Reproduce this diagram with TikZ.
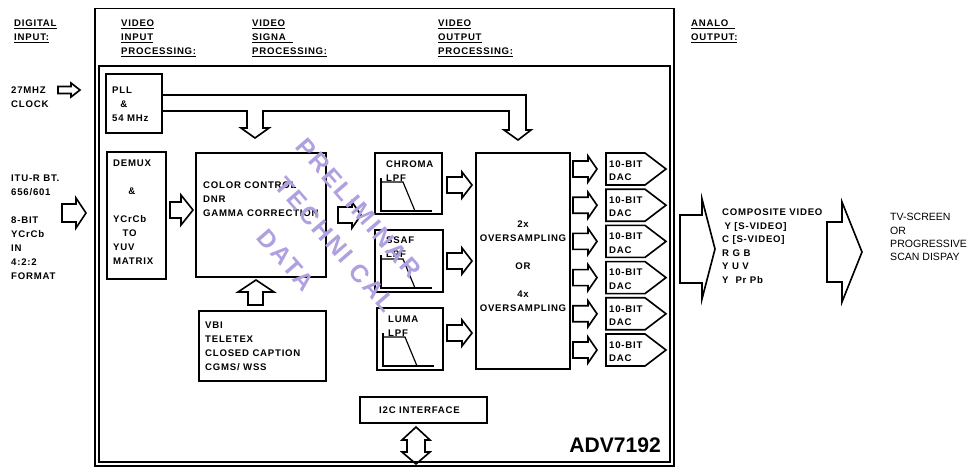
\documentclass[tikz,border=0pt]{standalone}
\usepackage{fontspec}
\setmainfont{Liberation Sans}
\newfontfamily\chugian[LetterSpace=8]{Liberation Sans}
\newfontfamily\chumo[LetterSpace=10]{Liberation Sans}
\definecolor{tim}{RGB}{176,160,224}
\tikzset{
  chu/.style={font=\chugian\fontsize{8.2}{12}\selectfont\bfseries, inner sep=0pt, align=left, anchor=north west},
  hop/.style={line width=1.4pt},
  vien/.style={line width=1.7pt},
  loc/.style={line width=2.2pt},
  mo/.style={text=tim, font=\chumo\fontsize{21}{24}\selectfont\bfseries, inner sep=0pt, anchor=west, rotate=-49}
}
% mui ten rong: x dau, x bat dau mui, x dinh, y giua, nua than, nua mui
\newcommand{\muiten}[6]{%
  \draw[hop] (#1,#4-#5) -- (#2,#4-#5) -- (#2,#4-#6) -- (#3,#4) -- (#2,#4+#6) -- (#2,#4+#5) -- (#1,#4+#5) -- cycle;}
\begin{document}
\begin{tikzpicture}[x=0.03cm, y=-0.03cm]
	\useasboundingbox (0,0) rectangle (967,467);
	% Khung ngoài và khung trong
	\draw[vien] (95,8.5) rectangle (674,465.6);
	\draw[vien] (99,66) rectangle (669.5,462);
	% Tiêu đề các cột
	\node[chu] (dig) at (14,19.6) {\underline{DIGITAL}\\\underline{INPUT:}};
	\node[chu] (vin) at (121,19.6) {\underline{VIDEO}\\\underline{INPUT}\\\underline{PROCESSING:}};
	\node[chu] (vsig) at (252,19.6) {\underline{VIDEO}\\\underline{SIGNA~~}\\\underline{PROCESSING:}};
	\node[chu] (vout) at (438,19.6) {\underline{VIDEO}\\\underline{OUTPUT}\\\underline{PROCESSING:}};
	\node[chu] (aout) at (691,19.6) {\underline{ANALO~~}\\\underline{OUTPUT:}};
	% Đầu vào
	\node[chu] (clk) at (11,86.6) {27MHZ\\CLOCK};
	\muiten{58}{71}{80}{90}{3.5}{7}
	\node[chu] (itu) at (11,174.6) {ITU-R BT.\\656/601\\[12pt]8-BIT\\YCrCb\\IN\\4:2:2\\FORMAT};
	\muiten{62}{76}{86}{213}{9}{15}
	% PLL
	\draw[hop] (106,74) rectangle (162,133);
	\node[chu] (pll) at (112,86.6) {PLL\\\hspace*{7pt}\&\\54 MHz};
	\draw[hop] (162,95) -- (526,95) -- (526,130) -- (531,130) -- (518,140) -- (504,130) -- (509,130)
		-- (509,111) -- (263,111) -- (263,128) -- (269,128) -- (255,138) -- (241,128) -- (247,128)
		-- (247,111) -- (162,111);
	% DEMUX
	\draw[hop] (107,152) rectangle (166,279);
	\node[chu] (demux) at (113,159.6) {DEMUX\\[12pt]\hspace*{13pt}\&\\[12pt]YCrCb\\\hspace*{8pt}TO\\YUV\\MATRIX};
	\muiten{170}{181}{193}{210}{8}{15}
	% Điều chỉnh màu
	\draw[hop] (196,153) rectangle (326,277);
	\node[chu] (mau) at (203,181.6) {COLOR CONTROL\\DNR\\GAMMA CORRECTION};
	\draw[hop] (248,305) -- (248,292) -- (238,292) -- (256,280) -- (274,292) -- (263,292) -- (263,305) -- cycle;
	\draw[hop] (199,311) rectangle (326,381);
	\node[chu] (vbi) at (205,321.6) {VBI\\TELETEX\\CLOSED CAPTION\\CGMS/ WSS};
	\muiten{338}{352}{361}{215}{8}{13}
	% Các bộ lọc
	\draw[hop] (375,153) rectangle (442,214);
	\node[chu] (chroma) at (386,160.6) {CHROMA\\LPF};
	\draw[hop] (375,230) rectangle (443,292);
	\node[chu] (ssaf) at (386,236.6) {SSAF\\LPF};
	\draw[hop] (377,308) rectangle (443,370);
	\node[chu] (luma) at (388,315.6) {LUMA\\LPF};
	\foreach \bx/\by in {375/153, 375/230, 377/308}{
		\draw[loc] (\bx+6,\by+25) -- (\bx+6,\by+58) -- (\bx+57,\by+58);
		\draw[line width=1pt] (\bx+6,\by+29) -- (\bx+28,\by+29) -- (\bx+40,\by+58);
	}
	\foreach \yc in {185, 261, 333}{
		\muiten{447}{462}{472}{\yc}{8}{13}
	}
	% Lấy mẫu
	\draw[hop] (476,153) rectangle (570,369);
	\node[chu, anchor=north, align=center] (over) at (523,220.6) {2x\\OVERSAMPLING\\[12pt]OR\\[12pt]4x\\OVERSAMPLING};
	% Sáu bộ DAC
	\foreach \i in {0,...,5}{
		\pgfmathsetmacro\yc{169+36.2*\i}
		\muiten{573}{588}{597}{\yc}{8}{13}
		\draw[hop] (606,\yc-16) -- (645,\yc-16) -- (666,\yc) -- (645,\yc+16) -- (606,\yc+16) -- cycle;
		\draw[loc] (606,\yc-16) -- (606,\yc+16);
		\node[chu, font=\chugian\fontsize{8.2}{11.5}\selectfont\bfseries] (dac\i) at (609,\yc-8.7) {10-BIT\\DAC};
	}
	% I2C
	\draw[hop] (360,397) rectangle (487,423);
	\node[chu, anchor=west] (i2c) at (379,410) {I2C INTERFACE};
	\draw[hop] (407,440) -- (402,440) -- (416,427) -- (430,440) -- (425,440) -- (425,452) -- (430,452)
		-- (416,464) -- (402,452) -- (407,452) -- cycle;
	\node[font=\fontsize{18}{20}\selectfont\bfseries, inner sep=0pt, anchor=east] (adv) at (661,445) {ADV7192};
	% Đầu ra
	\muiten{680}{702}{715}{249}{34}{50}
	\node[chu, font=\chugian\fontsize{8.2}{11.6}\selectfont\bfseries] (ra) at (722,208.6) {COMPOSITE VIDEO\\\hspace*{2pt}Y [S-VIDEO]\\C [S-VIDEO]\\R G B\\Y U V\\Y\ \ Pr Pb};
	\muiten{827}{842}{862}{252}{30}{50}
	\node[inner sep=0pt, align=left, anchor=north west, font=\fontsize{9}{11.4}\selectfont] (tv) at (890,213.2) {TV-SCREEN\\OR\\PROGRESSIVE\\SCAN DISPAY};
	% Chữ mờ
	\node[mo] (wm1) at (301,142) {PRELIMINAR};
	\node[mo] (wm2) at (280,181) {TECHNI CAL};
	\node[mo] (wm3) at (262,233) {DATA};
\end{tikzpicture}
\end{document}
